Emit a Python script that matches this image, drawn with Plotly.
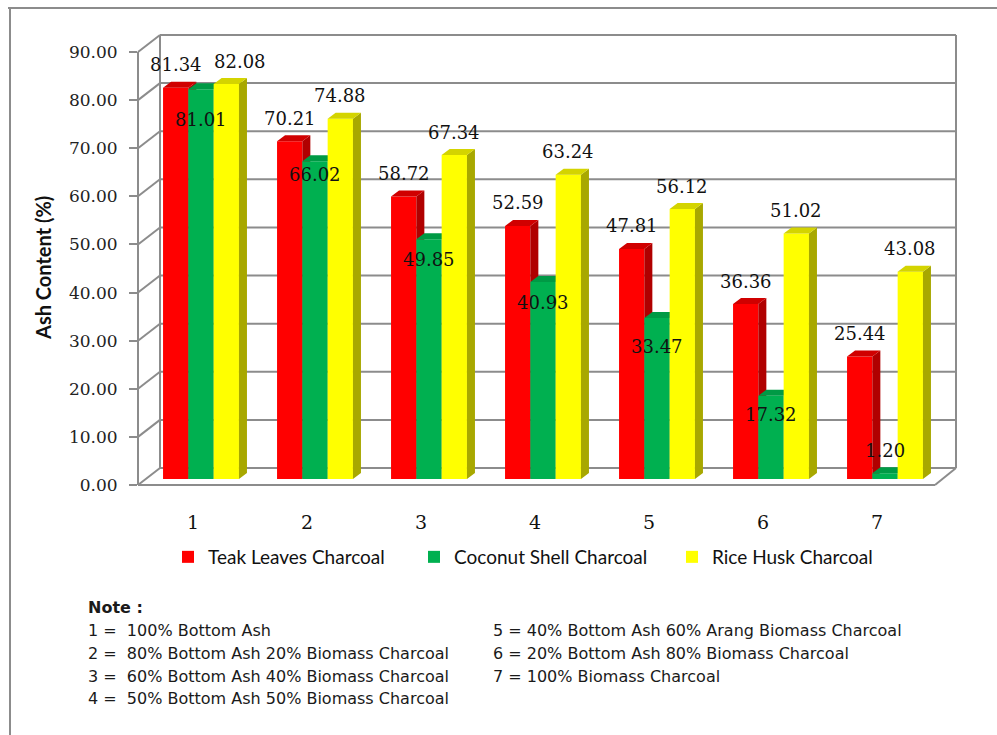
import plotly.graph_objects as go

# ---- data -------------------------------------------------------------
groups = [1, 2, 3, 4, 5, 6, 7]
teak_leaves = [81.34, 70.21, 58.72, 52.59, 47.81, 36.36, 25.44]
coconut_shell = [81.01, 66.02, 49.85, 40.93, 33.47, 17.32, 1.20]
rice_husk = [82.08, 74.88, 67.34, 63.24, 56.12, 51.02, 43.08]
series_names = ["Teak Leaves Charcoal", "Coconut Shell Charcoal", "Rice Husk Charcoal"]
y_ticks = [0, 10, 20, 30, 40, 50, 60, 70, 80, 90]

notes_left = [
    "1 =  100% Bottom Ash",
    "2 =  80% Bottom Ash 20% Biomass Charcoal",
    "3 =  60% Bottom Ash 40% Biomass Charcoal",
    "4 =  50% Bottom Ash 50% Biomass Charcoal",
]
notes_right = [
    "5 = 40% Bottom Ash 60% Arang Biomass Charcoal",
    "6 = 20% Bottom Ash 80% Biomass Charcoal",
    "7 = 100% Biomass Charcoal",
]

# ---- page geometry (pixels) -------------------------------------------
W, H = 997, 735


def px(x):
    return x / W


def py(y):
    return 1 - y / H


Y_MAX = 90
SCALE = (485 - 52) / Y_MAX        # pixels per percent
FRONT_X, FRONT_Y0 = 138, 485      # front axis corner
BACK_X, BACK_Y0, BACK_X1 = 160, 468, 956
FLOOR_X1 = 935
BAR_Y0 = 479                      # baseline of the bar fronts
PLOT_X0, PLOT_X1 = 144, 942       # category axis span (0.5 .. 7.5)
CAT_PX = (PLOT_X1 - PLOT_X0) / 7

BAR_W = 0.222
OFFSETS = [-0.333, -0.111, 0.111]
DEPTH_DX = 8 / CAT_PX             # 3-D depth of each bar, in axis units
DEPTH_DY = 6 / SCALE

front_cols = ["#FF0000", "#00B050", "#FFFF00"]
side_cols = ["#B00000", "#008A3C", "#A8A800"]
top_cols = ["#D00000", "#009A45", "#D4D400"]

fig = go.Figure()
series = [teak_leaves, coconut_shell, rice_husk]
axis_ids = [("x", "y"), ("x2", "y2"), ("x3", "y3")]
legend_ids = ["legend", "legend2", "legend3"]

for k, vals in enumerate(series):
    xa, ya = axis_ids[k]
    off = OFFSETS[k]
    fig.add_trace(go.Bar(
        x=groups, y=vals, width=BAR_W, offset=off,
        marker=dict(color=front_cols[k], line=dict(width=0)),
        name=series_names[k], legend=legend_ids[k],
        xaxis=xa, yaxis=ya, hoverinfo="x+y+name",
    ))
    # right-hand side faces and top faces of the boxes
    sx, sy, tx, ty = [], [], [], []
    for g, v in zip(groups, vals):
        xl = g + off
        xr = xl + BAR_W
        sx += [xr, xr, xr + DEPTH_DX, xr + DEPTH_DX, xr, None]
        sy += [0, v, v + DEPTH_DY, DEPTH_DY, 0, None]
        tx += [xl, xr, xr + DEPTH_DX, xl + DEPTH_DX, xl, None]
        ty += [v, v, v + DEPTH_DY, v + DEPTH_DY, v, None]
    for xs, ys, col in ((sx, sy, side_cols[k]), (tx, ty, top_cols[k])):
        fig.add_trace(go.Scatter(
            x=xs, y=ys, mode="lines", fill="toself", fillcolor=col,
            line=dict(width=0, color=col), showlegend=False,
            hoverinfo="skip", xaxis=xa, yaxis=ya,
        ))

# carrier trace for the front value axis
fig.add_trace(go.Scatter(x=[None], y=[None], xaxis="x", yaxis="y4",
                         showlegend=False, hoverinfo="skip"))

# ---- value labels -------------------------------------------------------
label_font = dict(family="DejaVu Serif", size=18, color="#111111")
annotations = []
for k in (0, 2):
    for i, (g, v) in enumerate(zip(groups, series[k])):
        annotations.append(dict(
            x=g + OFFSETS[k] + BAR_W / 2, y=v, xref="x", yref="y",
            text=f"{v:.2f}", showarrow=False, yanchor="middle",
            yshift=23, xshift=14 if (k == 2 and i == 0) else 0, font=label_font,
        ))
green_shift = [-30, -13, -20, -20, -29, -19, 23]
for i, (g, v) in enumerate(zip(groups, coconut_shell)):
    annotations.append(dict(
        x=g + OFFSETS[1] + BAR_W / 2, y=v, xref="x", yref="y",
        text=f"{v:.2f}", showarrow=False, yanchor="middle",
        yshift=green_shift[i], font=label_font,
    ))

# category labels
for g in groups:
    annotations.append(dict(
        x=g, y=py(522), xref="x", yref="paper", text=str(g), showarrow=False,
        xshift=-8, yanchor="middle",
        font=dict(family="DejaVu Serif", size=19, color="#111111"),
    ))

# axis title
annotations.append(dict(
    x=px(43), y=py(268), xref="paper", yref="paper", text="Ash Content (%)",
    showarrow=False, textangle=-90, xanchor="center", yanchor="middle",
    font=dict(family="Lato", size=20, color="#111111", weight="bold"),
))

# notes
note_font = dict(family="DejaVu Sans", size=16, color="#1A1A1A")
annotations.append(dict(
    x=px(86), y=py(607), xref="paper", yref="paper", text="<b>Note :</b>",
    showarrow=False, xanchor="left", yanchor="middle", font=note_font,
))
for line, yy in zip(notes_left, [630, 653, 676, 698]):
    annotations.append(dict(
        x=px(86), y=py(yy), xref="paper", yref="paper", text=line,
        showarrow=False, xanchor="left", yanchor="middle", font=note_font,
    ))
for line, yy in zip(notes_right, [630, 653, 676]):
    annotations.append(dict(
        x=px(491), y=py(yy), xref="paper", yref="paper", text=line,
        showarrow=False, xanchor="left", yanchor="middle", font=note_font,
    ))

# ---- chart frame: back wall, floor, depth lines --------------------------
grid = dict(color="#8C8C8C", width=2)
shapes = []


def seg(x0, y0, x1, y1, line=grid):
    shapes.append(dict(type="line", xref="paper", yref="paper",
                       x0=px(x0), y0=py(y0), x1=px(x1), y1=py(y1),
                       line=line, layer="below"))


seg(8, 8, 997, 8)
seg(10, 8, 10, 735)
top_back = BACK_Y0 - SCALE * Y_MAX
for v in y_ticks:
    yb = BACK_Y0 - SCALE * v
    yf = FRONT_Y0 - SCALE * v
    seg(BACK_X, yb, BACK_X1, yb)
    seg(FRONT_X, yf, BACK_X, yb)
seg(BACK_X, top_back, BACK_X, BACK_Y0)
seg(BACK_X1, top_back, BACK_X1, BACK_Y0)
seg(FRONT_X, FRONT_Y0, FLOOR_X1, FRONT_Y0)
seg(FLOOR_X1, FRONT_Y0, BACK_X1, BACK_Y0)

# ---- axes ------------------------------------------------------------------
xdom = [px(PLOT_X0), px(PLOT_X1)]
ydom = [py(BAR_Y0), py(BAR_Y0 - SCALE * Y_MAX)]
hidden_x = dict(domain=xdom, range=[0.5, 7.5], visible=False, fixedrange=True)
hidden_y = dict(domain=ydom, range=[0, Y_MAX], visible=False, fixedrange=True)

fig.update_layout(
    width=W, height=H,
    margin=dict(l=0, r=0, t=0, b=0, autoexpand=False),
    paper_bgcolor="white", plot_bgcolor="rgba(0,0,0,0)",
    xaxis=dict(**hidden_x, anchor="y"),
    yaxis=dict(**hidden_y, anchor="x"),
    xaxis2=dict(**hidden_x, overlaying="x", anchor="y2"),
    yaxis2=dict(**hidden_y, overlaying="y", anchor="x2"),
    xaxis3=dict(**hidden_x, overlaying="x", anchor="y3"),
    yaxis3=dict(**hidden_y, overlaying="y", anchor="x3"),
    yaxis4=dict(
        domain=[py(FRONT_Y0), py(FRONT_Y0 - SCALE * Y_MAX)],
        range=[0, Y_MAX], anchor="free", position=px(FRONT_X),
        tickvals=y_ticks, ticktext=[f"{v:.2f}" for v in y_ticks],
        ticks="outside", ticklen=8, tickwidth=2, tickcolor="#8C8C8C",
        showline=True, linecolor="#8C8C8C", linewidth=2,
        showgrid=False, zeroline=False, ticklabelstandoff=8,
        tickfont=dict(family="DejaVu Serif", size=17, color="#222222"),
        fixedrange=True, automargin=False,
    ),
    showlegend=True,
    annotations=annotations,
    shapes=shapes,
)

legend_common = dict(orientation="h", yanchor="middle", xanchor="left",
                     bgcolor="rgba(0,0,0,0)", borderwidth=0,
                     font=dict(family="Lato", size=19, color="#111111"))
fig.update_layout(
    legend=dict(**legend_common, x=px(168), y=py(557)),
    legend2=dict(**legend_common, x=px(414), y=py(557)),
    legend3=dict(**legend_common, x=px(672), y=py(557)),
)

fig.write_html("out.html")
